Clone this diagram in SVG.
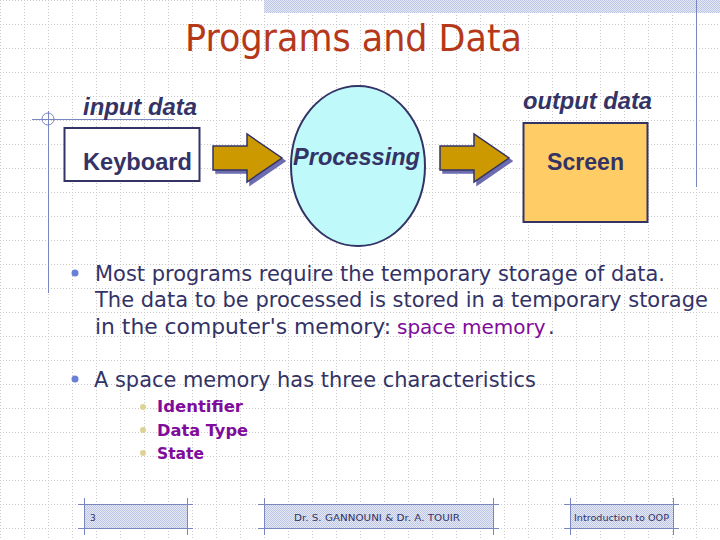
<svg xmlns="http://www.w3.org/2000/svg" width="720" height="540" viewBox="0 0 720 540">
<defs>
<pattern id="grid" width="24" height="24" patternUnits="userSpaceOnUse">
<path d="M0 0.5H24M0.5 0V24" stroke="#c8c8c8" stroke-width="1" stroke-dasharray="1 2" fill="none"/>
</pattern>
<pattern id="hatch" width="2" height="2" patternUnits="userSpaceOnUse">
<rect width="2" height="2" fill="#e6eaf6"/>
<rect width="1" height="1" fill="#bcc5e4"/>
<rect x="1" y="1" width="1" height="1" fill="#bcc5e4"/>
</pattern>
<g id="arrow">
<polygon points="0,12 34,12 34,0 69,24 34,48 34,36 0,36" transform="translate(3,3)" fill="#6c6cb0" stroke="#6c6cb0" stroke-width="1.5"/>
<polygon points="0,12 34,12 34,0 69,24 34,48 34,36 0,36" fill="#cc9900" stroke="#333366" stroke-width="1.5" stroke-linejoin="miter"/>
</g>
</defs>
<style>
.lbl{font-family:"Liberation Sans",Arial,sans-serif;font-size:23.5px;font-weight:bold;fill:#333366}
.it{font-style:italic}
.body{font-family:"DejaVu Sans",Verdana,sans-serif;font-size:21px;fill:#333366}
.sub{font-family:"DejaVu Sans",Verdana,sans-serif;font-size:16px;font-weight:bold;fill:#800c9c}
.foot{font-family:"DejaVu Sans",sans-serif;font-size:9px;fill:#333366}
.deco{stroke:#7a86c0;stroke-width:1;fill:none}
</style>
<rect width="720" height="540" fill="#ffffff"/>
<rect width="720" height="540" fill="url(#grid)"/>
<rect x="264" y="0" width="456" height="13" fill="url(#hatch)"/>
<line class="deco" x1="696.5" y1="0" x2="696.5" y2="187"/>
<line class="deco" x1="32" y1="119.5" x2="174" y2="119.5"/>
<line class="deco" x1="48.5" y1="111" x2="48.5" y2="293"/>
<circle class="deco" cx="48" cy="119" r="6"/>

<text x="185" y="51" font-family="DejaVu Sans,Verdana,sans-serif" font-size="38" fill="#b5381a" textLength="337" lengthAdjust="spacingAndGlyphs">Programs and Data</text>

<g id="input-label"><text class="lbl it" x="83" y="115" textLength="114" lengthAdjust="spacingAndGlyphs">input data</text></g>
<g id="output-label"><text class="lbl it" x="523" y="109" textLength="129" lengthAdjust="spacingAndGlyphs">output data</text></g>

<g id="keyboard">
<rect x="64.5" y="128" width="135" height="53" fill="#ffffff" stroke="#333366" stroke-width="2"/>
<text class="lbl" x="83" y="170" textLength="109" lengthAdjust="spacingAndGlyphs">Keyboard</text>
</g>
<g id="processing">
<ellipse cx="358" cy="166" rx="67" ry="80" fill="#bff9f9" stroke="#333366" stroke-width="2"/>
<text class="lbl it" x="293" y="165" textLength="127" lengthAdjust="spacingAndGlyphs">Processing</text>
</g>
<g id="screen">
<rect x="523.5" y="123" width="124" height="99" fill="#ffcc66" stroke="#333366" stroke-width="2"/>
<text class="lbl" x="547" y="170" textLength="77" lengthAdjust="spacingAndGlyphs">Screen</text>
</g>
<g id="connectors">
<use href="#arrow" x="213" y="134"/>
<use href="#arrow" x="440" y="134"/>
</g>

<circle cx="75" cy="273" r="3.5" fill="#6a80d8"/>
<text class="body" x="95" y="281" textLength="570" lengthAdjust="spacingAndGlyphs">Most programs require the temporary storage of data.</text>
<text class="body" x="95" y="307" textLength="613" lengthAdjust="spacingAndGlyphs">The data to be processed is stored in a temporary storage</text>
<text class="body" x="95" y="334" textLength="296" lengthAdjust="spacingAndGlyphs">in the computer's memory:</text>
<text class="body" x="397" y="334" style="fill:#800c9c;font-size:20px">space memory</text>
<text class="body" x="548" y="334">.</text>
<circle cx="75" cy="379" r="3.5" fill="#6a80d8"/>
<text class="body" x="94" y="387" textLength="442" lengthAdjust="spacingAndGlyphs">A space memory has three characteristics</text>

<circle cx="143" cy="407" r="3" fill="#dcd494"/>
<text class="sub" x="157" y="412" textLength="86" lengthAdjust="spacingAndGlyphs">Identifier</text>
<circle cx="143" cy="430" r="3" fill="#dcd494"/>
<text class="sub" x="157" y="436" textLength="91" lengthAdjust="spacingAndGlyphs">Data Type</text>
<circle cx="143" cy="453" r="3" fill="#dcd494"/>
<text class="sub" x="157" y="459" textLength="47" lengthAdjust="spacingAndGlyphs">State</text>

<rect x="84" y="504" width="103" height="24" fill="url(#hatch)"/>
<path class="deco" d="M78 504.5H193M78 528.5H193M84.5 498V535M187.5 498V535"/>
<text class="foot" x="90" y="521">3</text>
<rect x="264" y="504" width="229" height="24" fill="url(#hatch)"/>
<path class="deco" d="M258 504.5H499M258 528.5H499M264.5 498V535M493.5 498V535"/>
<text class="foot" x="294" y="521" textLength="166" lengthAdjust="spacingAndGlyphs">Dr. S. GANNOUNI &amp; Dr. A. TOUIR</text>
<rect x="570" y="504" width="103" height="24" fill="url(#hatch)"/>
<path class="deco" d="M564 504.5H679M564 528.5H679M570.5 498V535M673.5 498V535"/>
<text class="foot" x="574" y="521" textLength="95" lengthAdjust="spacingAndGlyphs">Introduction to OOP</text>
</svg>
